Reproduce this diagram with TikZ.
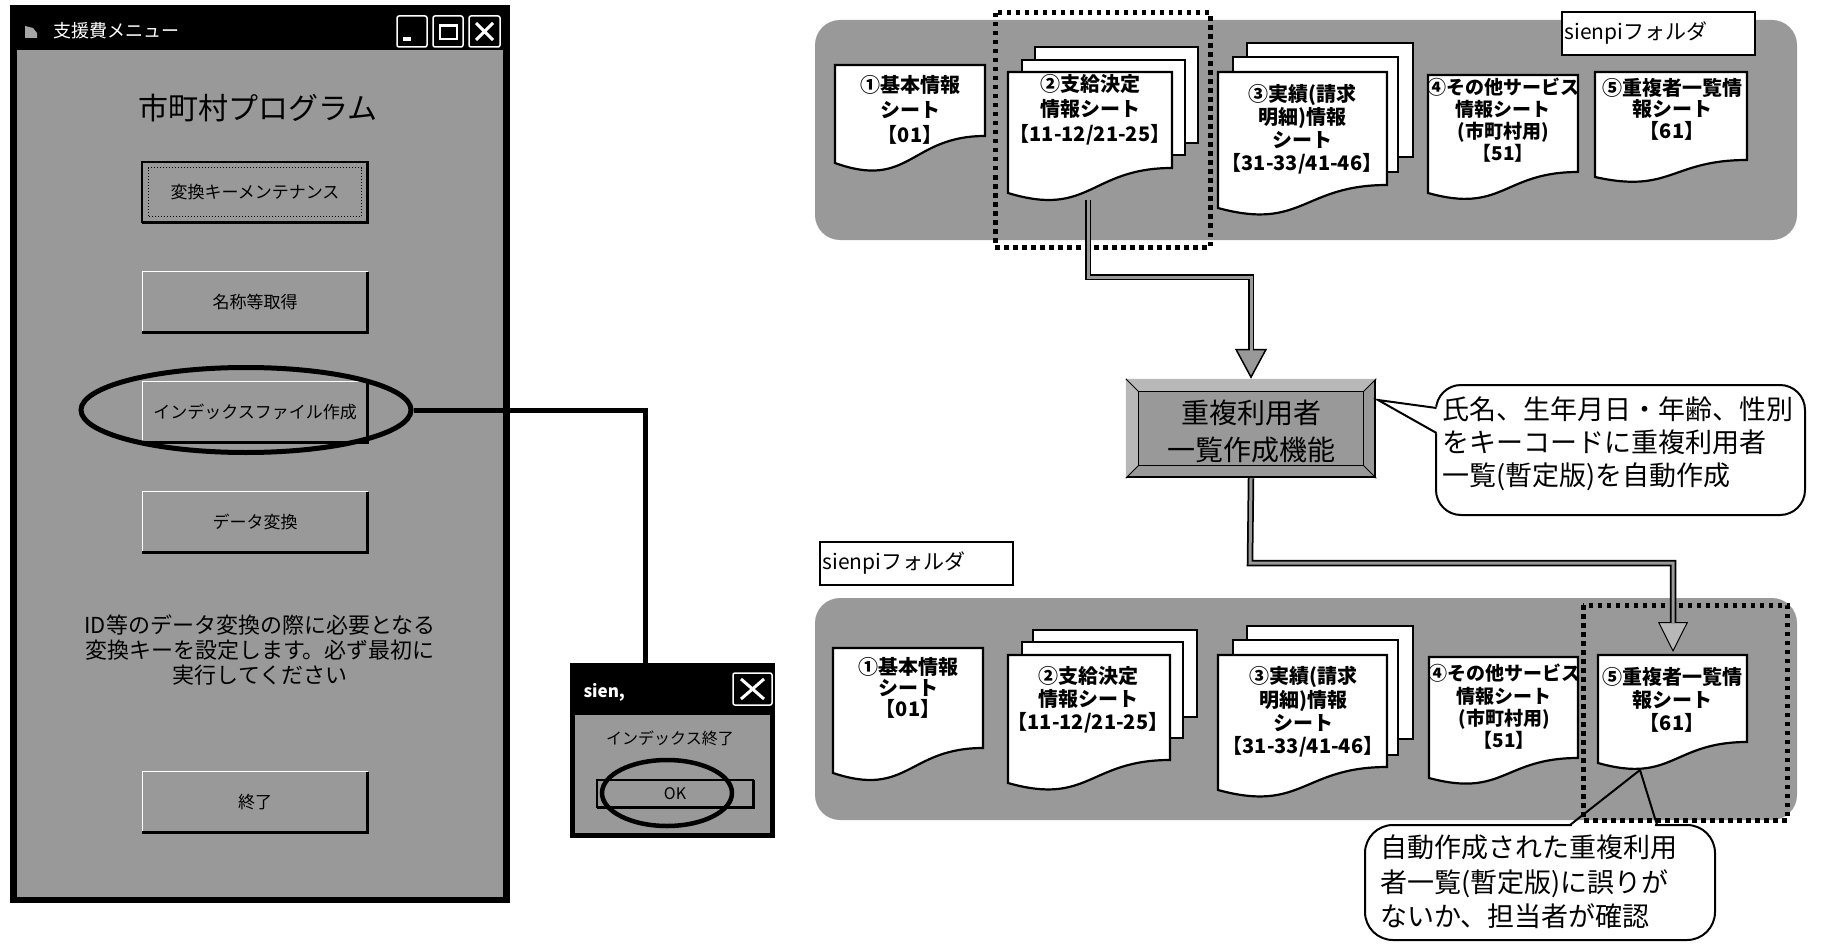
\documentclass[tikz,border=0pt]{standalone}
\usepackage{fontspec}
\setmainfont{Noto Sans CJK JP}
\usetikzlibrary{arrows.meta,shapes.geometric}
\definecolor{stip}{gray}{0.6}
\definecolor{stipl}{gray}{0.72}
\newcommand{\fs}[2]{\fontsize{#1}{#2}\selectfont}
\tikzset{
  docst/.style={fill=white, draw=black, line width=2.2},
  doctxt/.style={align=center, inner sep=0, font=\bfseries\fs{20}{25}},
  btn/.style={minimum width=225, minimum height=60, inner sep=0, font=\fs{17}{19}},
  hilite/.style={draw=black, line width=5, dash pattern=on 4.5 off 4.5},
  pipeout/.style={draw=black, line width=6.5},
  pipein/.style={draw=stip, line width=3},
  lbl/.style={draw=black, line width=2, fill=white, minimum width=193, minimum height=43, inner sep=0},
  callt/.style={align=left, inner sep=0, font=\fs{27}{33}},
}
\newcommand{\docshape}[5]{\draw[docst] (#1,#2) -- (#3,#2) -- (#3,#5) .. controls ({(#1+#3)/2},#5) and ({(#1+#3)/2},{#4+(#4-#5)}) .. (#1,#4) -- cycle;}
\newcommand{\pagesh}[4]{\draw[docst] (#1,#2) rectangle (#3,#4);}
\newcommand{\btnedges}[1]{\draw[white,line width=1.2] (#1.south west) -- (#1.north west) -- (#1.north east);
  \draw[black,line width=3] (#1.north east) -- (#1.south east) -- (#1.south west);}
\begin{document}
\begin{tikzpicture}[x=1pt,y=-1pt]
\useasboundingbox (0,0) rectangle (1832,947);
\fill[white] (0,0) rectangle (1832,947);

% ---------------- left window ----------------
\fill[black] (10,5) rectangle (510,903);
\fill[stip] (17,50) rectangle (503,897);
\fill[gray!70] (25,26) -- (33,28) -- (37,33) -- (37,38) -- (25,38) -- cycle;
\node[anchor=west, text=white, font=\fs{18}{20}] (wtitle) at (50,31) {支援費メニュー};
\draw[white, line width=1.5, rounded corners=2, fill=black] (397,16) rectangle (427,47);
\fill[white] (403,37) rectangle (411,41);
\draw[white, line width=1.5, rounded corners=2, fill=black] (433,16) rectangle (463,47);
\draw[white, line width=1.5] (440,25) rectangle (457,39);
\draw[white, line width=3] (440,26) -- (457,26);
\draw[white, line width=1.5, rounded corners=2, fill=black] (469,16) rectangle (500,47);
\draw[white, line width=3] (476,23) -- (493,40) (493,23) -- (476,40);

\node[font=\fs{30}{32}] (ptitle) at (258,108) {市町村プログラム};

\node[btn] (b1) at (255,192) {変換キーメンテナンス};
\btnedges{b1}
\draw[line width=2] (b1.south west) rectangle (b1.north east);
\draw[line width=1, dotted] ([shift={(6,-6)}]b1.south west) rectangle ([shift={(-6,6)}]b1.north east);
\node[btn] (b2) at (255,302) {名称等取得};
\btnedges{b2}
\node[btn] (b3) at (255,412) {インデックスファイル作成};
\btnedges{b3}
\node[btn] (b4) at (255,522) {データ変換};
\btnedges{b4}
\node[btn] (b5) at (255,802) {終了};
\btnedges{b5}

\node[align=center, font=\fs{22}{25}] (desc) at (260,650)
  {ID等のデータ変換の際に必要となる\\変換キーを設定します。必ず最初に\\実行してください};

\node[ellipse, draw, line width=5, minimum width=330, minimum height=85, inner sep=0] (e1) at (246,410) {};

% ---------------- dialog ----------------
\fill[black] (570,663) rectangle (775,838);
\fill[stip] (575,715) rectangle (770,833);
\node[anchor=west, text=white, font=\bfseries\fs{17}{19}] (dtitle) at (580,692) {sien,};
\draw[white, line width=1.5, rounded corners=2, fill=black] (733,673) rectangle (772,705);
\draw[white, line width=3] (741,679) -- (764,699) (764,679) -- (741,699);
\node[font=\fs{16}{18}] (dmsg) at (670,738) {インデックス終了};
\node[btn, minimum width=156, minimum height=27, font=\fs{16}{18}] (ok) at (675,793.5) {OK};
\btnedges{ok}
\draw[line width=1.5] (ok.south west) rectangle (ok.north east);
\node[ellipse, draw, line width=4.5, minimum width=130, minimum height=66, inner sep=0] (e2) at (667,793) {};

\coordinate (c1) at (645,663);
\draw[line width=5] (e1.east) -| (c1);

% ---------------- top folder ----------------
\fill[stip, rounded corners=25] (815,20) rectangle (1797,240);
\node[lbl] (lab1) at (1658.5,33.5) {};
\node[anchor=west, font=\fs{21}{23}] (lab1t) at (lab1.west) {sienpiフォルダ};

\docshape{835}{65}{985}{163}{136}
\node[doctxt] (t1) at (910,110) {①基本情報\\シート\\【01】};

\pagesh{1035}{47}{1198}{143}
\pagesh{1022}{60}{1185}{155}
\docshape{1008}{72}{1172}{193}{168}
\node[doctxt] (t2) at (1090,110) {②支給決定\\情報シート\\【11-12/21-25】};

\pagesh{1247}{43}{1413}{157}
\pagesh{1233}{57}{1398}{172}
\docshape{1218}{72}{1387}{208}{185}
\node[doctxt, font=\bfseries\fs{20}{23}] (t3) at (1302,129) {③実績(請求\\明細)情報\\シート\\【31-33/41-46】};

\docshape{1428}{75}{1578}{193}{172}
\node[doctxt, font=\bfseries\fs{19}{22}] (t4) at (1503,120) {④その他サービス\\情報シート\\(市町村用)\\【51】};

\docshape{1595}{72}{1747}{177}{160}
\node[doctxt, font=\bfseries\fs{20}{21.5}] (t5) at (1672,109) {⑤重複者一覧情\\報シート\\【61】};

\draw[hilite] (995,13) rectangle (1210,247);

% ---------------- function box ----------------
\node[draw, line width=2.5, fill=stip, minimum width=248, minimum height=97, inner sep=0] (func) at (1251,428.5) {};
\fill[stipl] (func.north west) -- (func.north east) -- ([shift={(-13,13)}]func.north east) -- ([shift={(13,13)}]func.north west) -- cycle;
\fill[stipl] (func.north west) -- (func.south west) -- ([shift={(13,-13)}]func.south west) -- ([shift={(13,13)}]func.north west) -- cycle;
\draw[line width=1] ([shift={(13,13)}]func.north west) rectangle ([shift={(-13,-13)}]func.south east);
\draw[line width=1] (func.north west) -- ([shift={(13,13)}]func.north west)
  (func.north east) -- ([shift={(-13,13)}]func.north east)
  (func.south west) -- ([shift={(13,-13)}]func.south west)
  (func.south east) -- ([shift={(-13,-13)}]func.south east);
\node[align=center, inner sep=0, font=\fs{28}{37}] (funct) at (1251,431.5) {重複利用者\\一覧作成機能};

% callout 1
\node[draw, line width=2, fill=white, rounded corners=25, minimum width=369, minimum height=130, inner sep=0] (co1) at (1620.5,450) {};
\coordinate (tip1) at (1378,400);
\fill[white] (1438,407) -- (tip1) -- (1438,434) -- cycle;
\draw[line width=2] (1436.5,408) -- (tip1) -- (1436.5,433);
\node[callt, anchor=west] (co1t) at (1442,444) {氏名、生年月日・年齢、性別\\をキーコードに重複利用者\\一覧(暫定版)を自動作成};

% ---------------- bottom folder ----------------
\node[lbl] (lab2) at (916.5,563) {};
\node[anchor=west, font=\fs{21}{23}] (lab2t) at (lab2.west) {sienpiフォルダ};

\fill[stip, rounded corners=25] (815,598) rectangle (1797,820);

\docshape{833}{648}{983}{773}{748}
\node[doctxt, font=\bfseries\fs{20}{21}] (u1) at (908,688) {①基本情報\\シート\\【01】};

\pagesh{1033}{630}{1197}{717}
\pagesh{1022}{642}{1183}{738}
\docshape{1008}{655}{1170}{783}{760}
\node[doctxt, font=\bfseries\fs{20}{23}] (u2) at (1088,700) {②支給決定\\情報シート\\【11-12/21-25】};

\pagesh{1247}{626}{1413}{739}
\pagesh{1233}{640}{1398}{755}
\docshape{1218}{655}{1387}{790}{767}
\node[doctxt, font=\bfseries\fs{20}{23.3}] (u3) at (1303,712) {③実績(請求\\明細)情報\\シート\\【31-33/41-46】};

\docshape{1429}{657}{1578}{778}{758}
\node[doctxt, font=\bfseries\fs{19}{22.3}] (u4) at (1504,707) {④その他サービス\\情報シート\\(市町村用)\\【51】};

\docshape{1598}{655}{1747}{763}{742}
\node[doctxt, font=\bfseries\fs{20}{23}] (u5) at (1672,700) {⑤重複者一覧情\\報シート\\【61】};

\draw[hilite] (1583,605) rectangle (1787,820);

% ---------------- connectors ----------------
\coordinate (d2b) at (1088,200);
\coordinate (k1) at (1088,277);
\draw[pipeout, -{Triangle[width=32pt,length=30pt,fill=stip,line width=1.5pt]}] (d2b) -- (k1) -| (func.north);
\draw[pipein, shorten >=28pt] (d2b) -- (k1) -| (func.north);

\coordinate (k2) at (1250,563);
\coordinate (tip5) at (1673,652);
\draw[pipeout, -{Triangle[width=30pt,length=30pt,fill=stipl,line width=1pt]}] (func.south) -- (k2) -| (tip5);
\draw[pipein, shorten >=28pt] (func.south) -- (k2) -| (tip5);

% callout 2
\node[draw, line width=2, rounded corners=28, minimum width=350, minimum height=115, inner sep=0] (co2) at (1540,882.5) {};
\coordinate (tip2) at (1640,770);
\fill[white] (1572,823) rectangle (1655,828);
\draw[line width=2] (1570,825) -- (tip2) -- (1657,825);
\node[callt, anchor=west, font=\fs{27}{34.5}] (co2t) at (1380,882) {自動作成された重複利用\\者一覧(暫定版)に誤りが\\ないか、担当者が確認};
\end{tikzpicture}
\end{document}
